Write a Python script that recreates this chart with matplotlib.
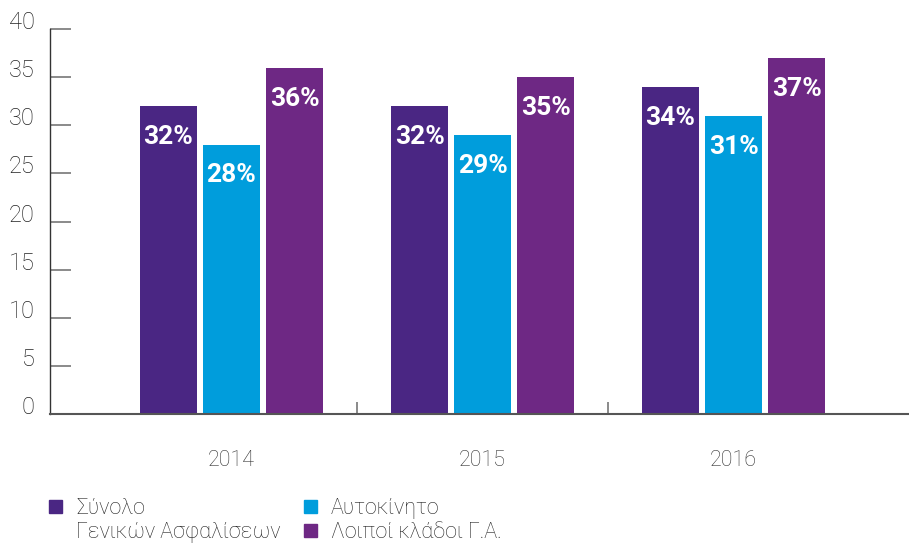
import numpy as np
import matplotlib
matplotlib.use("Agg")
import matplotlib.pyplot as plt
from matplotlib.patches import Rectangle

years = ["2014", "2015", "2016"]
series_names = ["Σύνολο\nΓενικών Ασφαλίσεων", "Αυτοκίνητο", "Λοιποί κλάδοι Γ.Α."]
total = [32, 32, 34]
auto = [28, 29, 31]
other = [36, 35, 37]
colors = ["#4a2683", "#009ddc", "#6e2884"]

W, H = 909, 545
fig = plt.figure(figsize=(W / 100, H / 100), dpi=100)
ax = fig.add_axes([50 / W, 131 / H, 1 - 50 / W, 385 / H])

x = np.arange(len(years))
bw = 57 / 251
step = 63 / 251
for k, vals in enumerate([total, auto, other]):
    pos = x + (k - 1) * step
    ax.bar(pos, vals, width=bw, color=colors[k])
    for p, v in zip(pos, vals):
        ax.annotate(f"{v}%", (p, v), xytext=(0, -31), textcoords="offset pixels",
                    ha="center", va="center", color="white", fontsize=19,
                    fontweight="bold", family="Roboto")

ax.set_xlim(-0.723, 2.699)
ax.set_ylim(0, 40)
ax.set_yticks(range(0, 41, 5))
ax.set_xticks(x)
ax.set_xticklabels(years)
ax.set_xticks([0.5, 1.5], minor=True)

for s in ["top", "right"]:
    ax.spines[s].set_visible(False)
ax.spines["left"].set_color("#333333")
ax.spines["left"].set_linewidth(1.0)
ax.spines["bottom"].set_color("#555555")
ax.spines["bottom"].set_linewidth(1.5)

ax.tick_params(axis="y", direction="in", length=15, width=1.2, color="#777777",
               pad=11, labelsize=17, labelcolor="#222222")
ax.tick_params(axis="x", which="major", length=0, pad=26, labelsize=15.5,
               labelcolor="#333333")
ax.tick_params(axis="x", which="minor", direction="in", length=9, width=1.2,
               color="#777777")
for lbl in ax.get_yticklabels():
    lbl.set_va("baseline")
    lbl.set_family("Roboto")
    lbl.set_fontweight("light")
for lbl in ax.get_xticklabels():
    lbl.set_family("Roboto")
    lbl.set_fontweight("light")

# legend drawn by hand
legend_pos = [(49, 500), (304, 500), (304, 524)]
for (lx, ly), name, c in zip(legend_pos, series_names, colors):
    fig.patches.append(Rectangle((lx / W, 1 - (ly + 13) / H), 13 / W, 13 / H,
                                 transform=fig.transFigure, color=c))
    lines = name.split("\n")
    for j, t in enumerate(lines):
        fig.text((lx + 27) / W, 1 - (ly + 14 + 24 * j) / H, t, fontsize=15.5,
                 color="#222222", va="baseline", ha="left",
                 family="Roboto", fontweight="light")

fig.savefig("out.png", dpi=100)
